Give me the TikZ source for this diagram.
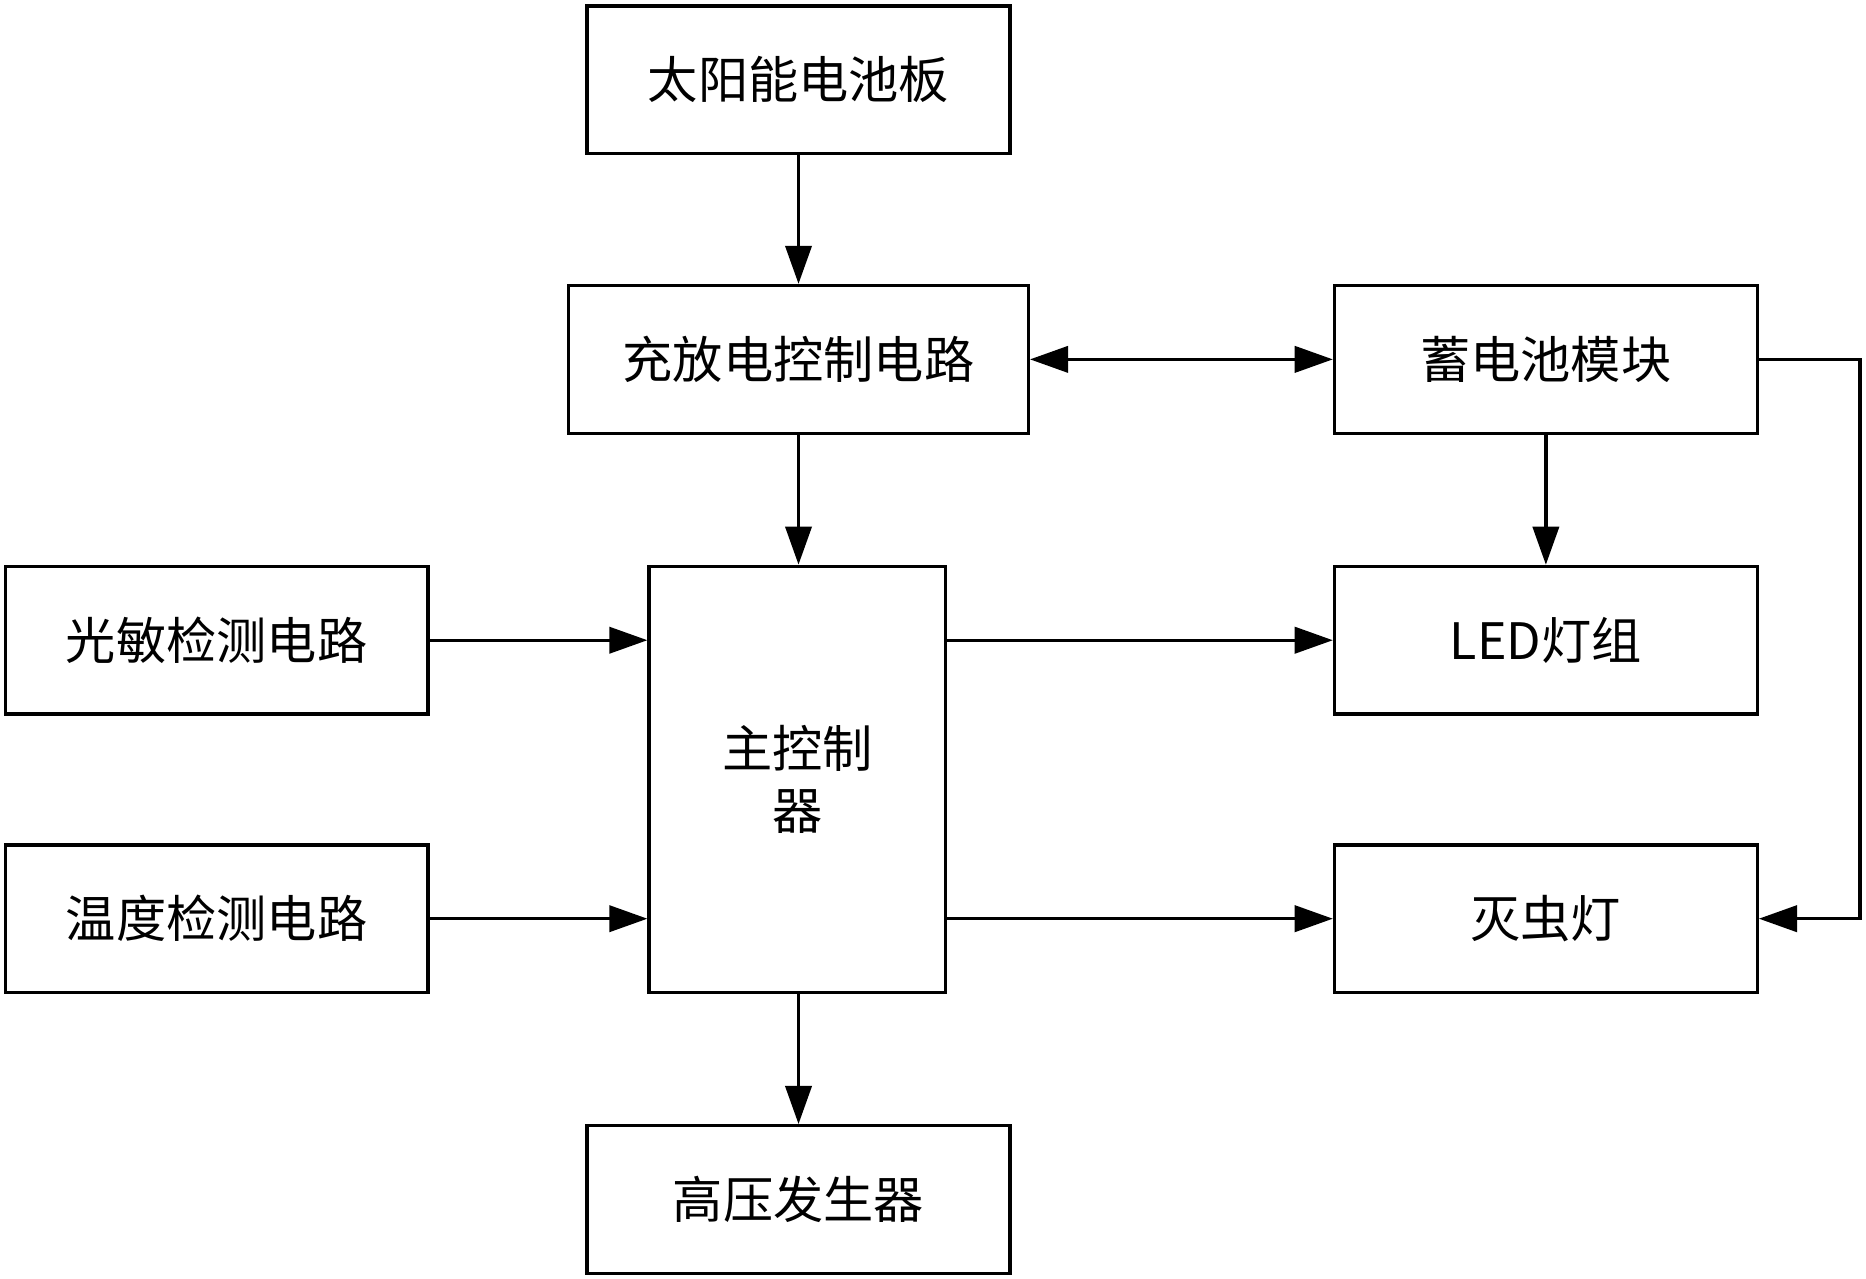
\documentclass[tikz,border=0pt]{standalone}
\usepackage{fontspec}
\setmainfont{Noto Sans CJK SC}
\usetikzlibrary{arrows.meta}
\begin{document}
\begin{tikzpicture}[x=0.01cm,y=-0.01cm]
      \tikzstyle{process} = [rectangle, minimum width=3.55cm, minimum height=1.24cm, text centered, draw=black, line width=0.8pt, font=\fontsize{12}{15}\selectfont]
      \tikzstyle{arrow} = [line width=0.8pt,-{Triangle[length=0.32cm,width=0.22cm]}]

      \useasboundingbox (0,0) rectangle (1568,1074);

      \node (solar) [process] at (671,67) {太阳能电池板};
      \node (charge) [process, minimum width=3.86cm] at (671,302) {充放电控制电路};
      \node (battery) [process] at (1299,302) {蓄电池模块};
      \node (light) [process] at (182,538) {光敏检测电路};
      \node (temp) [process] at (182,772) {温度检测电路};
      \node (main) [process, minimum width=2.49cm, minimum height=3.58cm, align=center] at (670,655) {主控制\\器};
      \node (led) [process] at (1299,538) {LED灯组};
      \node (lamp) [process] at (1299,772) {灭虫灯};
      \node (hv) [process] at (671,1008) {高压发生器};
      \coordinate (corner-top) at (1563,302);
      \coordinate (corner-bottom) at (1563,772);

      \draw [arrow] (solar) -- (charge);
      \draw [arrow, {Triangle[length=0.32cm,width=0.22cm]}-{Triangle[length=0.32cm,width=0.22cm]}] (charge) -- (battery);
      \draw [arrow] (charge.south) -- (main.north -| charge.south);
      \draw [arrow] (battery) -- (led);
      \draw [arrow] (light) -- (light.east -| main.west);
      \draw [arrow] (temp) -- (temp.east -| main.west);
      \draw [arrow] (led.west -| main.east) -- (led.west);
      \draw [arrow] (lamp.west -| main.east) -- (lamp.west);
      \draw [arrow] (main.south -| hv.north) -- (hv);
      \draw [arrow] (battery.east) -- (corner-top) -- (corner-bottom) -- (lamp.east);
    \end{tikzpicture}
\end{document}
